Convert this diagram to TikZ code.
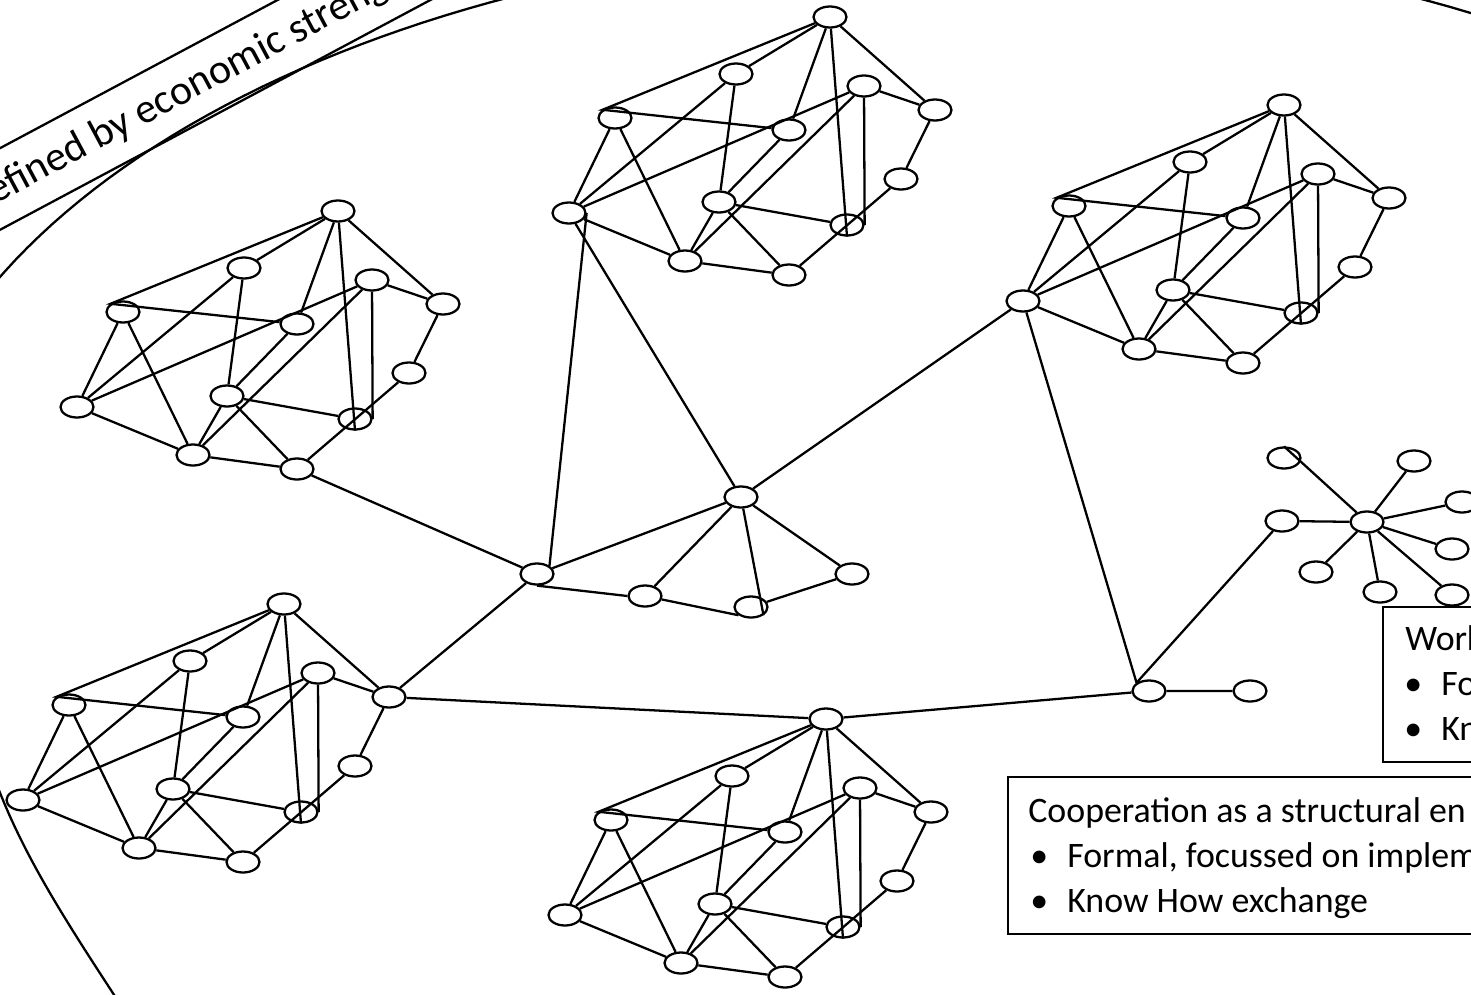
\documentclass[tikz,border=0pt]{standalone}
\usepackage{fontspec}
\setmainfont{Carlito}
\usetikzlibrary{shapes.geometric}

% bullet with hanging indent for the box texts
\newcommand{\itm}{\makebox[7.4mm][l]{\textbullet}}

\tikzset{
  vtx/.style={ellipse, draw, line width=1.3pt, minimum width=6.6mm, minimum height=4.2mm, inner sep=0pt},
  link/.style={line width=1.3pt},
  infobox/.style={draw, fill=white, line width=1.3pt},
  boxtext/.style={anchor=base west, inner sep=0pt, font=\fontsize{20.4}{25.5}\selectfont},
  % one firm: twelve actors and their ties
  pics/cluster/.style={code={
    \node[vtx] (-top)   at (0,0)      {};
    \node[vtx] (-upper) at (-94,57)   {};
    \node[vtx] (-left)  at (-215,101) {};
    \node[vtx] (-inner) at (34,69)    {};
    \node[vtx] (-right) at (105,93)   {};
    \node[vtx] (-mid)   at (-41,113)  {};
    \node[vtx] (-outer) at (-261,196) {};
    \node[vtx] (-core)  at (-111,185) {};
    \node[vtx] (-side)  at (71,162)   {};
    \node[vtx] (-knot)  at (17,208)   {};
    \node[vtx] (-low)   at (-145,244) {};
    \node[vtx] (-base)  at (-41,258)  {};
    \draw[link] (-top) -- (-left.north west) -- (-mid) -- (-core) -- (-base) -- (-side) -- (-right) -- (-top);
    \draw[link] (-top) -- (-upper) -- (-outer) -- (-left) -- (-low) -- (-outer);
    \draw[link] (-upper) -- (-core) -- (-low) -- (-base);
    \draw[link] (-top) -- (-mid);
    \draw[link] (-top) -- (-knot.south);
    \draw[link] (-outer) -- (-inner) -- (-right);
    \draw[link] (-inner) -- (-knot.east);
    \draw[link] (-inner) -- (-low);
    \draw[link] (-core) -- (-knot);
  }}
}

\begin{document}
\begin{tikzpicture}[x=0.2mm, y=-0.2mm]
\useasboundingbox (0,0) rectangle (1471,994);
\clip (0,0) rectangle (1471,994);

% region border (upper arc and lower left part) and its label band
\draw[link] plot[domain=200:305, samples=80] ({962+1072*cos(\x)}, {542+601*sin(\x)});
\draw[link] (-40,600) .. controls (-30,790) and (40,880) .. (150,1050);
\draw[link, rotate around={28.1:(0,189)}] (-200,153) rectangle (800,225);
\node[anchor=base west, rotate=28.1, inner sep=0pt, font=\fontsize{23.8}{28}\selectfont] (region) at (-5,205) {efined by economic streng};

% the five firms
\pic (A) at (338,211) {cluster};
\pic (B) at (830,17) {cluster};
\pic (C) at (1284,105) {cluster};
\pic (D) at (284,604) {cluster};
\pic (E) at (826,719) {cluster};

% small network in the middle
\node[vtx] (hub) at (537,574) {};
\node[vtx] (bridge) at (741,497) {};
\node[vtx] (h1) at (645,596) {};
\node[vtx] (h2) at (751,607) {};
\node[vtx] (h3) at (852,574) {};

% junction on the right and the star
\node[vtx] (junction) at (1149,691) {};
\node[vtx] (tail) at (1250,691) {};
\node[vtx] (star) at (1367,522) {};
\foreach \p [count=\i] in {(1284,458),(1414,461),(1462,502),(1282,521),(1452,549),(1316,572),(1380,592),(1452,595)}
  \node[vtx] (leaf\i) at \p {};

\draw[link] (A-base) -- (hub) -- (D-right) -- (E-top) -- (junction) -- (tail);
\draw[link] (hub.north east) -- (B-outer.east);
\draw[link] (hub) -- (bridge) -- (B-outer);
\draw[link] (C-outer) -- (bridge);
\draw[link] (hub.south) -- (h1.west);
\draw[link] (bridge) -- (h1) -- (h2.south west);
\draw[link] (bridge) -- (h2.south east);
\draw[link] (bridge) -- (h3) -- (h2);
\draw[link] (C-outer) -- (junction.north west) -- (leaf4);
\draw[link] (star) -- (leaf1.north);
\foreach \i in {2,...,8}
  \draw[link] (star) -- (leaf\i);

% text boxes
\draw[infobox] (1383,607) rectangle (1520,762);
\node[boxtext] (work1) at (1405,650) {Work};
\node[boxtext] (work2) at (1404,695) {\itm Fo};
\node[boxtext] (work3) at (1404,740) {\itm Kn};

\draw[infobox] (1008,777) rectangle (1520,934);
\node[boxtext] (coop1) at (1028,822) {Cooperation as a structural en};
\node[boxtext] (coop2) at (1030,867) {\itm Formal, focussed on implem};
\node[boxtext] (coop3) at (1030,912) {\itm Know How exchange};

\end{tikzpicture}
\end{document}
